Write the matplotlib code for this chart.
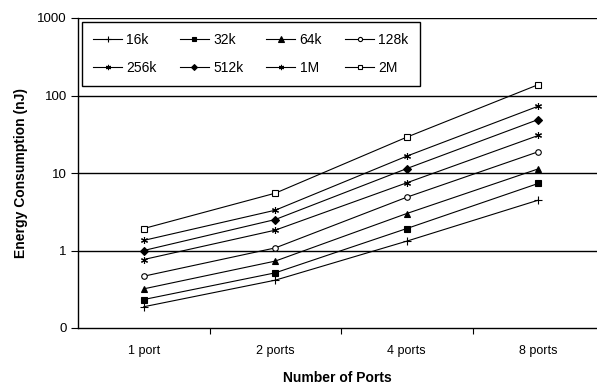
import matplotlib
matplotlib.use("Agg")
import matplotlib.pyplot as plt
from matplotlib.ticker import FixedLocator, NullLocator, FixedFormatter

plt.rcParams['font.family'] = ['Liberation Sans', 'DejaVu Sans']

categories = ["1 port", "2 ports", "4 ports", "8 ports"]
series_names = ["16k", "32k", "64k", "128k", "256k", "512k", "1M", "2M"]
s16k = [0.188, 0.414, 1.32, 4.46]
s32k = [0.233, 0.515, 1.92, 7.33]
s64k = [0.32, 0.73, 3.0, 11.3]
s128k = [0.466, 1.08, 4.87, 18.8]
s256k = [0.765, 1.83, 7.47, 30.5]
s512k = [1.0, 2.51, 11.4, 49.0]
s1M = [1.35, 3.31, 16.5, 72.8]
s2M = [1.92, 5.49, 29.0, 138.0]
values = [s16k, s32k, s64k, s128k, s256k, s512k, s1M, s2M]
ytick_vals = [0.1, 1, 10, 100, 1000]
ytick_labels = ["0", "1", "10", "100", "1000"]

star = (6, 2, 0)
styles = [
    dict(marker='+', ms=5.5, mfc='black'),
    dict(marker='s', ms=4.5, mfc='black'),
    dict(marker='^', ms=5, mfc='black'),
    dict(marker='o', ms=4, mfc='white'),
    dict(marker=star, ms=5, mfc='black'),
    dict(marker='D', ms=4, mfc='black'),
    dict(marker=star, ms=5, mfc='black'),
    dict(marker='s', ms=4.5, mfc='white'),
]

fig = plt.figure(figsize=(5.97, 3.84), dpi=100)
ax = fig.add_axes([78/597, 1-328/384, 1-78/597, (328-18)/384])

x = list(range(len(categories)))
handles = []
for name, vals, st in zip(series_names, values, styles):
    h, = ax.plot(x, vals, color='black', lw=0.8, mec='black', mew=0.8, label=name, **st)
    handles.append(h)

ax.set_yscale('log')
ax.set_ylim(0.1, 1000)
ax.yaxis.set_major_locator(FixedLocator(ytick_vals))
ax.yaxis.set_major_formatter(FixedFormatter(ytick_labels))
ax.yaxis.set_minor_locator(NullLocator())
for v in ytick_vals[1:]:
    ax.axhline(v, color='black', lw=1.0, zorder=0)

ax.set_xlim(-0.5, -0.5 + 519/131.5)
ax.set_xticks([0.5, 1.5, 2.5])
ax.set_xticklabels([])
ax.xaxis.set_minor_locator(FixedLocator(x))
ax.xaxis.set_minor_formatter(FixedFormatter(categories))
ax.tick_params(axis='x', which='minor', length=0, pad=12, labelsize=9)
ax.tick_params(axis='x', which='major', length=4, direction='out', width=0.8)
ax.tick_params(axis='y', which='major', length=5, direction='out', width=0.8, labelsize=9.5, pad=3)

for side in ['top', 'right']:
    ax.spines[side].set_visible(False)
for side in ['left', 'bottom']:
    ax.spines[side].set_color('black')
    ax.spines[side].set_linewidth(1.0)

ax.set_xlabel("Number of Ports", fontsize=10, fontweight='bold', labelpad=10)
ax.set_ylabel("Energy Consumption (nJ)", fontsize=10, fontweight='bold', labelpad=7)

# row-major ordering for a 4-column legend
order = [0, 4, 1, 5, 2, 6, 3, 7]
leg = ax.legend([handles[i] for i in order], [series_names[i] for i in order],
                ncol=4, loc='upper left', bbox_to_anchor=(4/519, 1 - 4/310),
                fontsize=10, frameon=True, fancybox=False, handlelength=2.1,
                columnspacing=1.65, handletextpad=0.3, borderpad=0.8, labelspacing=1.0,
                borderaxespad=0, markerscale=0.75)
leg.get_frame().set_edgecolor('black')
leg.get_frame().set_linewidth(1.0)
leg.get_frame().set_alpha(1)

fig.savefig("out.png", dpi=100)
